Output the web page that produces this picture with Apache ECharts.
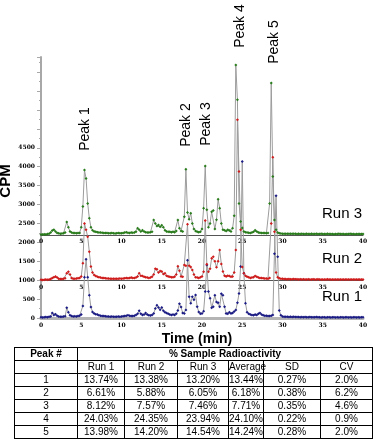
<!DOCTYPE html>
<html>
<head>
<meta charset="utf-8">
<script src="https://cdn.jsdelivr.net/npm/echarts@6/dist/echarts.min.js"></script>
<style>
  html, body { margin: 0; padding: 0; background: #fff; }
  #chart { position: absolute; left: 0; top: 0; width: 387px; height: 442px; }
  #peaks {
    position: absolute; left: 14px; top: 347px; width: 358px;
    border-collapse: collapse; table-layout: fixed;
    font-family: 'Liberation Sans', Arial, sans-serif; font-size: 10px; color: #000;
  }
  #peaks td { border: 1px solid #000; text-align: center; padding: 0; height: 12px; line-height: 12px; }
  #peaks tr.head td { font-weight: bold; }
</style>
</head>
<body>
<div id="chart"></div>
<table id="peaks"></table>
<script>
// counts per run, one reading every 0.2 min from 0 to 40 min
const sampleStep = 0.2
const run1 = [
  20, 15, 20, 25, 20, 30, 40, 130, 80, 100,
  60, 40, 35, 30, 40, 45, 270, 150, 70, 50,
  40, 45, 40, 50, 60, 90, 320, 1080, 1550, 1080,
  600, 290, 160, 120, 100, 90, 70, 60, 55, 50,
  45, 40, 40, 35, 40, 35, 30, 35, 40, 35,
  40, 45, 50, 60, 70, 60, 50, 55, 60, 80,
  110, 190, 110, 80, 90, 130, 90, 70, 65, 80,
  120, 250, 340, 280, 220, 280, 190, 150, 130, 110,
  90, 80, 90, 80, 110, 200, 380, 290, 130, 120,
  210, 1530, 560, 390, 560, 480, 610, 300, 160, 110,
  120, 180, 700, 1400, 700, 520, 270, 300, 600, 420,
  400, 300, 640, 600, 300, 120, 110, 150, 120, 130,
  170, 210, 400, 650, 1360, 4140, 1180, 390, 150, 110,
  90, 80, 70, 90, 80, 110, 130, 90, 70, 60,
  60, 50, 55, 60, 80, 1700, 3230, 1620, 200, 70,
  40, 35, 30, 30, 25, 30, 25, 30, 25, 25,
  25, 20, 25, 20, 25, 20, 20, 25, 20, 20,
  20, 25, 20, 20, 15, 20, 20, 15, 20, 20,
  15, 20, 20, 15, 20, 15, 20, 20, 15, 20,
  20, 15, 20, 15, 20, 20, 15, 20, 15, 20,
  20
]
const run2 = [
  10, 5, 10, 15, 10, 20, 30, 60, 80, 95,
  70, 40, 30, 30, 35, 50, 180, 225, 150, 60,
  40, 40, 45, 50, 60, 100, 450, 1500, 1330, 1150,
  750, 360, 200, 140, 110, 90, 80, 70, 60, 55,
  50, 45, 45, 40, 40, 35, 40, 35, 40, 45,
  40, 45, 50, 55, 50, 60, 70, 60, 55, 70,
  100, 180, 120, 110, 90, 80, 70, 60, 70, 90,
  150, 300, 290, 200, 240, 230, 160, 180, 120, 100,
  90, 80, 80, 90, 150, 370, 250, 100, 90, 400,
  380, 1480, 380, 350, 270, 150, 80, 70, 60, 80,
  100, 225, 1580, 420, 225, 300, 580, 620, 500, 340,
  500, 800, 430, 230, 120, 100, 120, 110, 90, 100,
  200, 800, 4240, 2870, 1330, 350, 180, 120, 90, 80,
  60, 70, 80, 110, 90, 70, 60, 55, 50, 45,
  45, 40, 60, 1500, 3250, 1280, 200, 80, 50, 40,
  35, 30, 30, 25, 30, 25, 25, 30, 25, 25,
  20, 25, 20, 25, 20, 20, 25, 20, 20, 25,
  20, 20, 25, 20, 20, 15, 20, 20, 25, 20,
  20, 15, 20, 20, 15, 20, 20, 15, 20, 20,
  15, 20, 20, 15, 20, 15, 20, 20, 15, 20,
  20
]
const run3 = [
  10, 10, 15, 10, 20, 30, 60, 110, 130, 90,
  50, 40, 30, 35, 40, 60, 340, 200, 90, 60,
  50, 45, 40, 45, 50, 200, 750, 1710, 1490, 830,
  440, 200, 120, 90, 80, 70, 60, 60, 55, 50,
  50, 45, 40, 40, 45, 40, 35, 40, 45, 40,
  40, 45, 60, 70, 55, 50, 60, 55, 60, 80,
  170, 130, 90, 120, 90, 70, 60, 60, 70, 80,
  390, 300, 230, 260, 210, 250, 200, 120, 90, 80,
  80, 70, 80, 70, 100, 390, 170, 100, 90, 480,
  1730, 590, 410, 570, 300, 150, 100, 80, 70, 80,
  150, 700, 1820, 660, 200, 300, 610, 640, 150, 400,
  940, 700, 300, 130, 120, 100, 130, 110, 90, 170,
  500, 4490, 3570, 830, 350, 180, 90, 70, 60, 55,
  50, 60, 80, 120, 90, 60, 55, 50, 45, 45,
  40, 50, 830, 4010, 1540, 390, 130, 60, 40, 35,
  30, 30, 25, 30, 25, 25, 30, 25, 25, 20,
  25, 20, 25, 20, 20, 25, 20, 20, 25, 20,
  20, 25, 20, 20, 25, 20, 20, 20, 25, 20,
  20, 20, 15, 20, 20, 25, 20, 20, 20, 15,
  20, 20, 25, 20, 20, 15, 20, 20, 20, 20,
  20
]
const runNames = ['Run 1', 'Run 2', 'Run 3']
const runOffsets = [0, 1000, 2200]   // CPM offset each trace is stacked at
const runColors = ['#1c1c86', '#d01c1c', '#2a7d1c']

// table
const peakNums = ['1', '2', '3', '4', '5']
const pctRun1 = [13.74, 6.61, 8.12, 24.03, 13.98]
const pctRun2 = [13.38, 5.88, 7.57, 24.35, 14.20]
const pctRun3 = [13.20, 6.05, 7.46, 23.94, 14.54]
const pctAvg = [13.44, 6.18, 7.71, 24.10, 14.24]
const pctSD = [0.27, 0.38, 0.35, 0.22, 0.28]
const pctCV = [2.0, 6.2, 4.6, 0.9, 2.0]

const colWidths = [63, 47, 53, 51, 35, 57, 52]
const pct = (v) => v.toFixed(2) + '%'
let html = '<colgroup>' + colWidths.map((w) => '<col style="width:' + w + 'px">').join('') + '</colgroup>'
html += '<tr class="head"><td>Peak #</td><td colspan="6">% Sample Radioactivity</td></tr>'
html += '<tr><td></td><td>Run 1</td><td>Run 2</td><td>Run 3</td><td>Average</td><td>SD</td><td>CV</td></tr>'
peakNums.forEach((p, i) => {
  html += '<tr><td>' + p + '</td><td>' + pct(pctRun1[i]) + '</td><td>' + pct(pctRun2[i]) + '</td><td>' +
    pct(pctRun3[i]) + '</td><td>' + pct(pctAvg[i]) + '</td><td>' + pct(pctSD[i]) + '</td><td>' +
    pctCV[i].toFixed(1) + '%</td></tr>'
})
document.getElementById('peaks').innerHTML = html

// chart
const W = 387, H = 442
const plotTop = 57, plotZero = 318, yMax = 6900
const pxPerCpm = (plotZero - plotTop) / yMax
const tickFont = { fontSize: 6, fontWeight: 'bold', fontFamily: 'DejaVu Serif, serif', color: '#000' }
const runs = [run1, run2, run3]

const grids = [], xAxes = [], yAxes = [], series = []
runs.forEach((run, i) => {
  const base = plotZero - runOffsets[i] * pxPerCpm
  grids.push({ left: 41, right: 24, top: plotTop, bottom: H - base })
  xAxes.push({
    gridIndex: i, type: 'value', min: 0, max: 40, interval: 5,
    splitLine: { show: false },
    axisTick: { show: false },
    axisLine: i === 0
      ? { lineStyle: { color: '#b4b4b4', width: 3 } }
      : { lineStyle: { color: '#555', width: 1 } },
    axisLabel: { ...tickFont, margin: 4 },
  })
  yAxes.push({
    gridIndex: i, type: 'value', min: 0, max: yMax - runOffsets[i], interval: 500,
    show: i === 0,
    splitLine: { show: false },
    axisLine: { show: true, lineStyle: { color: '#a8a8a8', width: 2 } },
    axisTick: { show: true, length: 4, lineStyle: { color: '#a8a8a8' } },
    minorTick: { show: true, splitNumber: 2, length: 2, lineStyle: { color: '#a8a8a8' } },
    axisLabel: { ...tickFont, margin: 6, formatter: (v) => (v <= 4500 ? v : '') },
  })
  series.push({
    name: runNames[i], type: 'line', xAxisIndex: i, yAxisIndex: i,
    data: run.map((v, k) => [k * sampleStep, v]),
    symbol: 'diamond', symbolSize: 3,
    lineStyle: { color: '#9c9c9c', width: 1 },
    itemStyle: { color: runColors[i] },
    clip: false,
  })
})

const txt = (text, x, y, font, rot) => ({
  type: 'text', x, y, rotation: rot || 0,
  style: { text, font, fill: '#000', textAlign: 'center', textVerticalAlign: 'middle' },
})
const labelFont = '14px "Liberation Sans", Arial, sans-serif'
const up = Math.PI / 2

const chart = echarts.init(document.getElementById('chart'))
chart.setOption({
  animation: false,
  grid: grids,
  xAxis: xAxes,
  yAxis: yAxes,
  series,
  graphic: [
    txt('CPM', 6, 181, 'bold 15px "Liberation Sans", Arial, sans-serif', up),
    txt('Time (min)', 197, 339, 'bold 14px "Liberation Sans", Arial, sans-serif'),
    txt('Peak 1', 85, 129, labelFont, up),
    txt('Peak 2', 186, 125, labelFont, up),
    txt('Peak 3', 206, 124, labelFont, up),
    txt('Peak 4', 240, 26, labelFont, up),
    txt('Peak 5', 274, 42, labelFont, up),
    txt('Run 3', 342, 214, '15px "Liberation Sans", Arial, sans-serif'),
    txt('Run 2', 342, 259, '15px "Liberation Sans", Arial, sans-serif'),
    txt('Run 1', 342, 297, '15px "Liberation Sans", Arial, sans-serif'),
  ],
})
</script>
</body>
</html>
